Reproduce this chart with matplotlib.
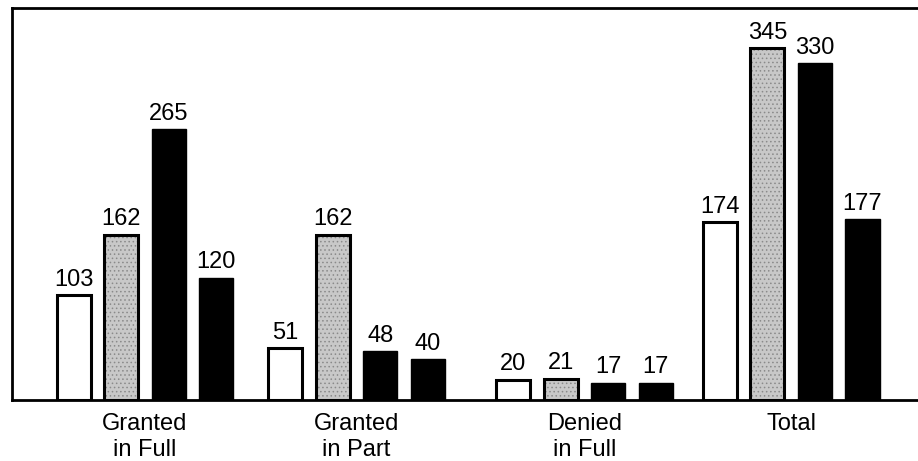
import matplotlib
matplotlib.use("Agg")
import matplotlib.pyplot as plt
import numpy as np

groups = ["Granted\nin Full", "Granted\nin Part", "Denied\nin Full", "Total"]
series_1 = [103, 51, 20, 174]
series_2 = [162, 162, 21, 345]
series_3 = [265, 48, 17, 330]
series_4 = [120, 40, 17, 177]

plt.rcParams["font.family"] = ["Liberation Sans", "DejaVu Sans"]
plt.rcParams["hatch.color"] = "#8a8a8a"
plt.rcParams["hatch.linewidth"] = 0.6

fig = plt.figure(figsize=(9.18, 4.61), dpi=100)
ax = fig.add_axes([12/918, 61/461, 1 - 12/918, 392/461])

group_pos = np.array([0.0, 4.45, 9.25, 13.6])
width = 0.72
styles = [
    dict(facecolor="white", edgecolor="black", linewidth=2.2),
    dict(facecolor="#c8c8c8", edgecolor="black", linewidth=2.2),
    dict(facecolor="black", edgecolor="black", linewidth=1),
    dict(facecolor="black", edgecolor="black", linewidth=1),
]

all_series = [series_1, series_2, series_3, series_4]
for i, (vals, st) in enumerate(zip(all_series, styles)):
    x = group_pos + (i - 1.5)
    bars = ax.bar(x, vals, width=width, **st)
    if i == 1:
        for b in bars:
            b.set_hatch("....")
            b._hatch_color = matplotlib.colors.to_rgba("#8a8a8a")
    for xi, v in zip(x, vals):
        ax.text(xi, v + 9, str(v), ha="center", va="baseline", fontsize=17)

ax.set_xlim(-2.8, 16.27)
ax.set_ylim(0, 384)
ax.set_yticks([])
ax.set_xticks(group_pos)
ax.set_xticklabels(groups, fontsize=17, linespacing=1.25)
ax.tick_params(axis="x", length=0, pad=9)
for s in ["left", "top", "bottom"]:
    ax.spines[s].set_linewidth(2)
ax.spines["right"].set_visible(False)

plt.savefig("out.png", dpi=100)
